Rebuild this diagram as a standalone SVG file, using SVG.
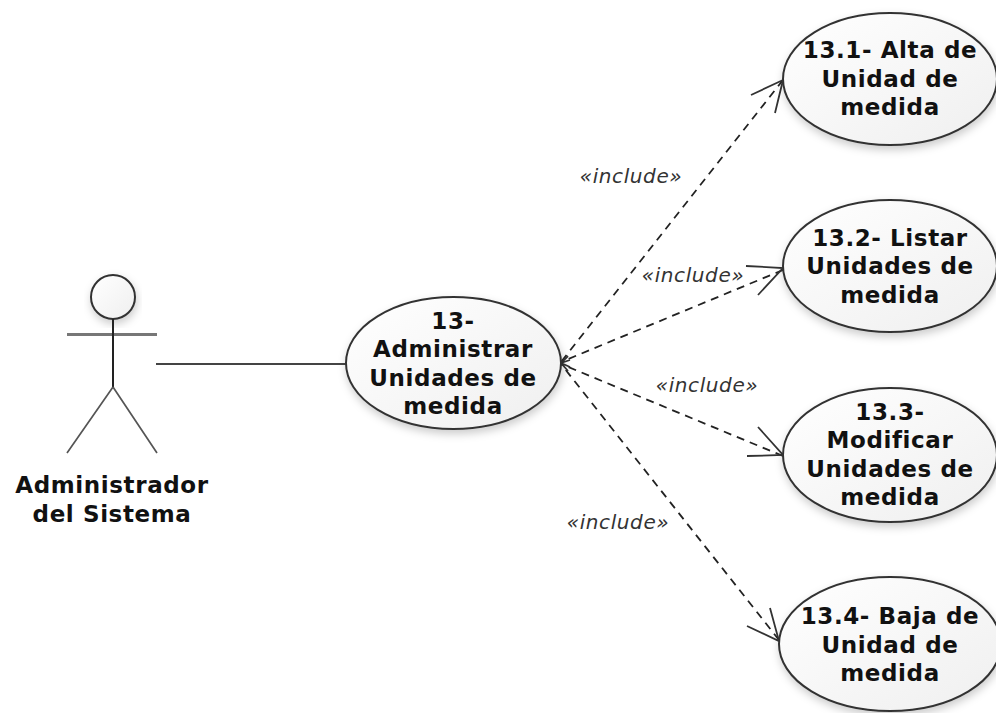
<svg xmlns="http://www.w3.org/2000/svg" width="996" height="713" viewBox="0 0 996 713">
<style>
text{font-family:"DejaVu Sans",sans-serif;fill:#111}
.n{font-size:23px;font-weight:bold;text-anchor:middle;letter-spacing:.6px}
.l{font-size:20px;font-style:italic;fill:#333;text-anchor:middle;letter-spacing:.6px;font-family:"DejaVu Sans",sans-serif}
.u{fill:url(#g);stroke:#333;stroke-width:2;filter:url(#s)}
.d{fill:none;stroke:#222;stroke-width:1.8;stroke-dasharray:8 6}
.a{fill:none;stroke:#333;stroke-width:1.8}
</style>
<defs>
<linearGradient id="g" x1="0" y1="0" x2="1" y2="1"><stop offset="0" stop-color="#fff"/><stop offset="1" stop-color="#efefef"/></linearGradient>
<filter id="s" x="-15%" y="-15%" width="130%" height="135%"><feDropShadow dx="1" dy="4" stdDeviation="4" flood-color="#000" flood-opacity=".2"/></filter>
</defs>
<rect width="996" height="713" fill="#fff"/>
<g id="connectors">
<path d="M156 364H346" stroke="#444" stroke-width="2" fill="none"/>
<path class="d" d="M783 80L561 362"/><path class="a" d="M751 95L783 80L775 113"/>
<path class="d" d="M783 270L561 362"/><path class="a" d="M746 266L783 268L758 295"/>
<path class="d" d="M783 456L561 364"/><path class="a" d="M758 427L783 455L747 456"/>
<path class="d" d="M779 640L561 364"/><path class="a" d="M770 608L779 641L747 626"/>
<path class="a" d="M561 363L568 356M561 363L570 360M561 363L570 367M561 363L568 371"/>
<text class="l" x="631" y="183">«include»</text>
<text class="l" x="693" y="282">«include»</text>
<text class="l" x="707" y="392">«include»</text>
<text class="l" x="618" y="529">«include»</text>
</g>
<g id="actor">
<circle class="u" cx="113" cy="297" r="22"/>
<path d="M67 334.500H157" stroke="#777" stroke-width="3"/>
<path d="M113 319V387" stroke="#222" stroke-width="2"/>
<path d="M113 387L67 453M113 387L157 453" stroke="#555" stroke-width="1.700" fill="none"/>
<text class="n" x="112" y="493">Administrador</text>
<text class="n" x="112" y="522">del Sistema</text>
</g>
<g id="uc13">
<ellipse class="u" cx="453.500" cy="363" rx="107.500" ry="66"/>
<text class="n" x="453" y="329">13-</text><text class="n" x="453" y="357">Administrar</text><text class="n" x="453" y="386">Unidades de</text><text class="n" x="453" y="414">medida</text>
</g>
<g id="uc131">
<ellipse class="u" cx="890" cy="79" rx="107" ry="66"/>
<text class="n" x="890" y="58">13.1- Alta de</text><text class="n" x="890" y="87">Unidad de</text><text class="n" x="890" y="115">medida</text>
</g>
<g id="uc132">
<ellipse class="u" cx="890" cy="266" rx="107" ry="66"/>
<text class="n" x="890" y="246">13.2- Listar</text><text class="n" x="890" y="274">Unidades de</text><text class="n" x="890" y="303">medida</text>
</g>
<g id="uc133">
<ellipse class="u" cx="890" cy="455" rx="107" ry="67"/>
<text class="n" x="890" y="420">13.3-</text><text class="n" x="890" y="448">Modificar</text><text class="n" x="890" y="477">Unidades de</text><text class="n" x="890" y="505">medida</text>
</g>
<g id="uc134">
<ellipse class="u" cx="890" cy="644" rx="111" ry="67"/>
<text class="n" x="890" y="624">13.4- Baja de</text><text class="n" x="890" y="653">Unidad de</text><text class="n" x="890" y="681">medida</text>
</g>
</svg>
